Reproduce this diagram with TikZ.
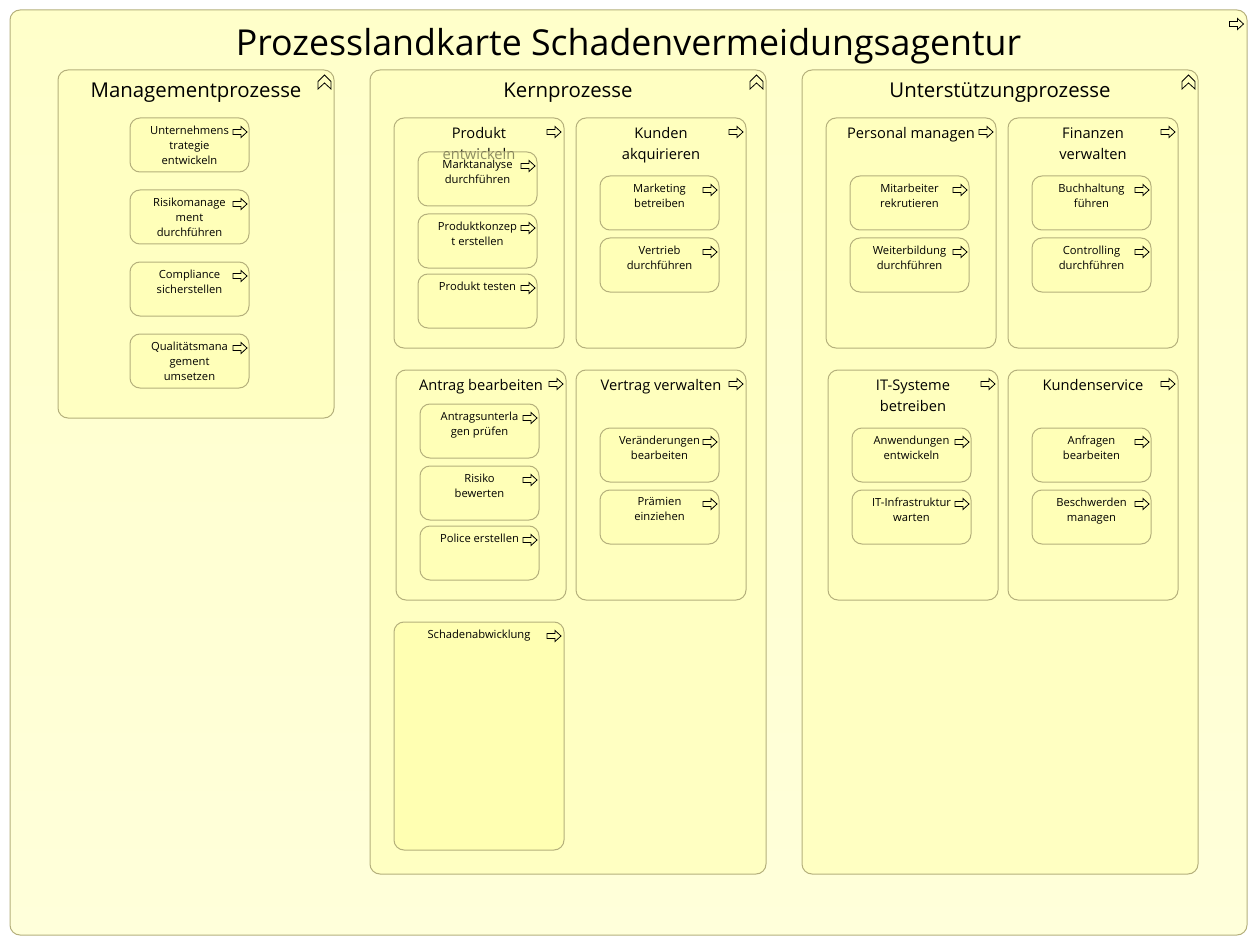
\documentclass[tikz,border=0pt]{standalone}
\usepackage{fontspec}
\setmainfont{Open Sans}
\usepackage{tikz}
\usetikzlibrary{positioning}

\definecolor{mapline}{HTML}{B5B07C}
\definecolor{mapbgtop}{HTML}{FFFFCA}
\definecolor{mapbgbot}{HTML}{FFFFDA}
\definecolor{lanefill}{HTML}{FFFFC2}
\definecolor{procfill}{HTML}{FFFFBE}
\definecolor{leaffill}{HTML}{FFFFB2}

\tikzset{
  mapframe/.style={draw=mapline, line width=0.75pt, rounded corners=7.5pt},
  outerbox/.style={mapframe, top color=mapbgtop, bottom color=mapbgbot},
  lanebox/.style={mapframe, fill=lanefill},
  procbox/.style={mapframe, fill=procfill},
  leafbox/.style={mapframe, fill=leaffill, fill opacity=0.55},
  claimbox/.style={mapframe, fill=leaffill},
  maptitle/.style={anchor=base, inner sep=0pt, font=\fontsize{26.8}{32}\selectfont},
  lanetext/.style={anchor=base, inner sep=0pt, font=\fontsize{15.3}{18}\selectfont},
  proctext/.style={anchor=north, inner sep=0pt, align=center, font=\fontsize{11}{15.75}\selectfont},
  leaftext/.style={anchor=north, inner sep=0pt, align=center, font=\fontsize{8.4}{11.25}\selectfont},
  flowarrow/.pic={\draw[line width=0.6pt, line join=miter]
      (-7,-2.5) -- (1,-2.5) -- (1,-5.5) -- (7,0) -- (1,5.5) -- (1,2.5) -- (-7,2.5) -- cycle;},
  collapsemark/.pic={\draw[line width=0.6pt]
      (0,-7) -- (6.5,-0.5) -- (6.5,7) -- (0,1) -- (-6.5,7) -- (-6.5,-0.5) -- cycle;}
}

% lane: name, x1, y1, x2, y2, title
\newcommand{\lanegroup}[6]{
  \draw[lanebox] (#2,#3) rectangle (#4,#5);
  \node[lanetext] (#1) at ({(#2+#4)/2},#3+27.7) {#6};
  \pic at (#4-9.5,#3+12) {collapsemark};
}
% process: name, x, y, title
\newcommand{\procgroup}[4]{
  \draw[procbox] (#2,#3) rectangle ++(170,230);
  \node[proctext] (#1) at (#2+85,#3+9.4) {#4};
  \pic at (#2+160,#3+14) {flowarrow};
}
% leaf process: name, x, y, text
\newcommand{\leafproc}[4]{
  \draw[leafbox] (#2,#3) rectangle ++(119,54);
  \node[leaftext] (#1) at (#2+59.5,#3+7.3) {#4};
  \pic at (#2+110,#3+14) {flowarrow};
}

\begin{document}
\begin{tikzpicture}[x=0.75pt, y=-0.75pt]
    \useasboundingbox (0,0) rectangle (1257,945);

    % whole map
    \draw[outerbox] (10,10) rectangle (1247,935);
    \node[maptitle] (title) at (628.5,56) {Prozesslandkarte Schadenvermeidungsagentur};
    \pic at (1236.5,24) {flowarrow};

    % Managementprozesse
    \lanegroup{mgmt}{58}{70}{334}{418}{Managementprozesse}
    \foreach \n/\x/\y/\t in {mgmtA/130/118/{Unternehmens\\trategie\\entwickeln},
        mgmtB/130/190/{Risikomanage\\ment\\durchführen},
        mgmtC/130/262/{Compliance\\sicherstellen},
        mgmtD/130/334/{Qualitätsmana\\gement\\umsetzen}}
    {\leafproc{\n}{\x}{\y}{\t}}

    % Kernprozesse
    \lanegroup{core}{370}{70}{766}{874}{Kernprozesse}
    \foreach \n/\x/\y/\t in {prod/394/118/{Produkt\\entwickeln},
        kund/576/118/{Kunden\\akquirieren},
        antr/396/370/{Antrag bearbeiten},
        vert/576/370/{Vertrag verwalten}}
    {\procgroup{\n}{\x}{\y}{\t}}

    \foreach \n/\x/\y/\t in {prodA/418/152/{Marktanalyse\\durchführen},
        prodB/418/214/{Produktkonzep\\t erstellen},
        prodC/418/274/{Produkt testen},
        kundA/600/176/{Marketing\\betreiben},
        kundB/600/238/{Vertrieb\\durchführen},
        antrA/420/404/{Antragsunterla\\gen prüfen},
        antrB/420/466/{Risiko\\bewerten},
        antrC/420/526/{Police erstellen},
        vertA/600/428/{Veränderungen\\bearbeiten},
        vertB/600/490/{Prämien\\einziehen}}
    {\leafproc{\n}{\x}{\y}{\t}}

    \draw[claimbox] (394,622) rectangle (564,850);
    \node[leaftext] (claim) at (479,629.5) {Schadenabwicklung};
    \pic at (554,636) {flowarrow};

    % Unterstuetzungprozesse
    \lanegroup{supp}{802}{70}{1198}{874}{Unterstützungprozesse}
    \foreach \n/\x/\y/\t in {pers/826/118/{Personal managen},
        fin/1008/118/{Finanzen\\verwalten},
        its/828/370/{IT-Systeme\\betreiben},
        kserv/1008/370/{Kundenservice}}
    {\procgroup{\n}{\x}{\y}{\t}}

    \foreach \n/\x/\y/\t in {persA/850/176/{Mitarbeiter\\rekrutieren},
        persB/850/238/{Weiterbildung\\durchführen},
        finA/1032/176/{Buchhaltung\\führen},
        finB/1032/238/{Controlling\\durchführen},
        itsA/852/428/{Anwendungen\\entwickeln},
        itsB/852/490/{IT-Infrastruktur\\warten},
        kservA/1032/428/{Anfragen\\bearbeiten},
        kservB/1032/490/{Beschwerden\\managen}}
    {\leafproc{\n}{\x}{\y}{\t}}

\end{tikzpicture}
\end{document}
